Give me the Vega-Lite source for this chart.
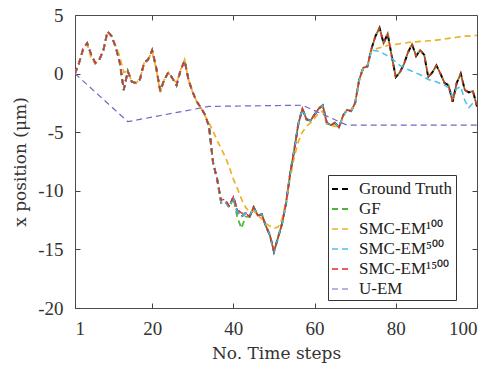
{
  "$schema": "https://vega.github.io/schema/vega-lite/v6.json",
  "width": 402,
  "height": 293,
  "autosize": {"type": "none"},
  "padding": {"left": 75, "top": 15, "right": 27, "bottom": 62},
  "background": "white",
  "config": {
    "view": {"stroke": "#4d4d4d", "strokeWidth": 1},
    "font": "Liberation Serif",
    "axis": {"labelFont": "Liberation Serif", "titleFont": "DejaVu Serif", "labelColor": "#333", "titleColor": "#333", "domain": false, "grid": false, "ticks": true, "tickColor": "#444", "tickWidth": 1, "labelFontSize": 19, "titleFontSize": 17, "titleFontWeight": "normal"}
  },
  "data": {"values": [
    {"s":1,"gt":0,"gf":0,"e1":0,"e5":0,"e15":0,"u":0},
    {"s":2,"gt":0.9,"gf":0.9,"e1":0.9,"e5":0.9,"e15":0.9,"u":null},
    {"s":3,"gt":2.1,"gf":2.1,"e1":2.1,"e5":2.1,"e15":2.1,"u":null},
    {"s":4,"gt":2.6,"gf":2.6,"e1":2.5,"e5":2.6,"e15":2.6,"u":null},
    {"s":5,"gt":1.6,"gf":1.6,"e1":1.3,"e5":1.6,"e15":1.6,"u":null},
    {"s":6,"gt":0.9,"gf":0.9,"e1":0.85,"e5":0.9,"e15":0.9,"u":null},
    {"s":7,"gt":1.2,"gf":1.2,"e1":1.2,"e5":1.2,"e15":1.2,"u":null},
    {"s":8,"gt":2.0,"gf":2.0,"e1":2.0,"e5":2.0,"e15":2.0,"u":null},
    {"s":9,"gt":3.6,"gf":3.6,"e1":3.6,"e5":3.6,"e15":3.6,"u":null},
    {"s":10,"gt":3.2,"gf":3.2,"e1":3.2,"e5":3.2,"e15":3.2,"u":null},
    {"s":11,"gt":2.3,"gf":2.3,"e1":2.4,"e5":2.3,"e15":2.3,"u":null},
    {"s":12,"gt":1.0,"gf":1.0,"e1":1.5,"e5":1.0,"e15":1.0,"u":null},
    {"s":13,"gt":-1.4,"gf":-1.4,"e1":0.1,"e5":-1.4,"e15":-1.4,"u":null},
    {"s":14,"gt":0.2,"gf":0.2,"e1":0.2,"e5":0.2,"e15":0.2,"u":-4.1},
    {"s":15,"gt":-0.7,"gf":-0.7,"e1":-0.7,"e5":-0.7,"e15":-0.7,"u":null},
    {"s":16,"gt":-0.8,"gf":-0.8,"e1":-0.8,"e5":-0.8,"e15":-0.8,"u":null},
    {"s":17,"gt":-0.5,"gf":-0.5,"e1":-0.5,"e5":-0.5,"e15":-0.5,"u":null},
    {"s":18,"gt":0.9,"gf":0.9,"e1":0.9,"e5":0.9,"e15":0.9,"u":null},
    {"s":19,"gt":1.2,"gf":1.2,"e1":1.2,"e5":1.2,"e15":1.2,"u":null},
    {"s":20,"gt":2.0,"gf":2.0,"e1":1.9,"e5":2.0,"e15":2.0,"u":null},
    {"s":21,"gt":0.5,"gf":0.5,"e1":0.4,"e5":0.5,"e15":0.5,"u":null},
    {"s":22,"gt":-1.5,"gf":-1.5,"e1":-1.6,"e5":-1.5,"e15":-1.5,"u":null},
    {"s":23,"gt":-0.5,"gf":-0.5,"e1":-0.5,"e5":-0.5,"e15":-0.5,"u":null},
    {"s":24,"gt":0.1,"gf":0.1,"e1":0.1,"e5":0.1,"e15":0.1,"u":null},
    {"s":25,"gt":-0.4,"gf":-0.4,"e1":-0.4,"e5":-0.4,"e15":-0.4,"u":null},
    {"s":26,"gt":-1.0,"gf":-1.0,"e1":-0.8,"e5":-1.0,"e15":-1.0,"u":null},
    {"s":27,"gt":0.3,"gf":0.3,"e1":0.3,"e5":0.3,"e15":0.3,"u":null},
    {"s":28,"gt":1.1,"gf":1.1,"e1":1.2,"e5":1.1,"e15":1.1,"u":null},
    {"s":29,"gt":-0.6,"gf":-0.6,"e1":-0.6,"e5":-0.6,"e15":-0.6,"u":null},
    {"s":30,"gt":-1.6,"gf":-1.6,"e1":-1.6,"e5":-1.6,"e15":-1.6,"u":null},
    {"s":31,"gt":-2.4,"gf":-2.4,"e1":-2.4,"e5":-2.4,"e15":-2.4,"u":null},
    {"s":32,"gt":-2.9,"gf":-2.9,"e1":-2.9,"e5":-2.9,"e15":-2.9,"u":null},
    {"s":33,"gt":-3.5,"gf":-3.5,"e1":-3.6,"e5":-3.5,"e15":-3.5,"u":null},
    {"s":34,"gt":-4.5,"gf":-4.5,"e1":-4.2,"e5":-4.5,"e15":-4.5,"u":-2.8},
    {"s":35,"gt":-7.6,"gf":-7.6,"e1":-4.9,"e5":-7.6,"e15":-7.6,"u":null},
    {"s":36,"gt":-9.0,"gf":-9.0,"e1":-5.7,"e5":-9.0,"e15":-9.0,"u":null},
    {"s":37,"gt":-11.0,"gf":-11.0,"e1":-6.4,"e5":-11.0,"e15":-10.8,"u":null},
    {"s":38,"gt":-10.9,"gf":-10.9,"e1":-7.1,"e5":-10.9,"e15":-10.7,"u":null},
    {"s":39,"gt":-11.4,"gf":-11.4,"e1":-8.0,"e5":-11.4,"e15":-11.3,"u":null},
    {"s":40,"gt":-10.5,"gf":-10.6,"e1":-9.0,"e5":-10.5,"e15":-10.5,"u":null},
    {"s":41,"gt":-11.8,"gf":-12.3,"e1":-9.8,"e5":-11.8,"e15":-11.6,"u":null},
    {"s":42,"gt":-12.2,"gf":-13.2,"e1":-10.7,"e5":-12.2,"e15":-11.9,"u":null},
    {"s":43,"gt":-11.9,"gf":-12.2,"e1":-11.4,"e5":-11.9,"e15":-11.9,"u":null},
    {"s":44,"gt":-12.2,"gf":-12.2,"e1":-11.8,"e5":-12.2,"e15":-12.2,"u":null},
    {"s":45,"gt":-11.4,"gf":-11.4,"e1":-11.7,"e5":-11.4,"e15":-11.4,"u":null},
    {"s":46,"gt":-12.1,"gf":-12.1,"e1":-12.1,"e5":-12.1,"e15":-12.1,"u":null},
    {"s":47,"gt":-12.0,"gf":-12.0,"e1":-12.4,"e5":-12.0,"e15":-12.0,"u":null},
    {"s":48,"gt":-13.0,"gf":-13.0,"e1":-12.8,"e5":-13.0,"e15":-13.0,"u":null},
    {"s":49,"gt":-13.8,"gf":-13.8,"e1":-13.0,"e5":-13.8,"e15":-13.8,"u":null},
    {"s":50,"gt":-15.2,"gf":-15.2,"e1":-13.2,"e5":-15.2,"e15":-15.2,"u":null},
    {"s":51,"gt":-14.0,"gf":-14.0,"e1":-13.1,"e5":-14.0,"e15":-14.0,"u":null},
    {"s":52,"gt":-12.8,"gf":-12.8,"e1":-12.4,"e5":-12.8,"e15":-12.8,"u":null},
    {"s":53,"gt":-11.0,"gf":-11.0,"e1":-10.8,"e5":-11.0,"e15":-11.0,"u":null},
    {"s":54,"gt":-8.5,"gf":-8.5,"e1":-8.9,"e5":-8.5,"e15":-8.5,"u":null},
    {"s":55,"gt":-6.5,"gf":-6.5,"e1":-7.1,"e5":-6.5,"e15":-6.5,"u":null},
    {"s":56,"gt":-4.3,"gf":-4.3,"e1":-5.8,"e5":-4.3,"e15":-4.3,"u":null},
    {"s":57,"gt":-3.0,"gf":-3.0,"e1":-5.0,"e5":-3.0,"e15":-3.0,"u":-2.7},
    {"s":58,"gt":-3.9,"gf":-3.9,"e1":-4.5,"e5":-3.9,"e15":-3.9,"u":null},
    {"s":59,"gt":-4.0,"gf":-4.0,"e1":-4.2,"e5":-4.0,"e15":-4.0,"u":null},
    {"s":60,"gt":-3.5,"gf":-3.5,"e1":-3.8,"e5":-3.5,"e15":-3.5,"u":null},
    {"s":61,"gt":-3.0,"gf":-3.0,"e1":-3.4,"e5":-3.0,"e15":-3.0,"u":null},
    {"s":62,"gt":-2.7,"gf":-2.7,"e1":-3.2,"e5":-2.7,"e15":-2.7,"u":null},
    {"s":63,"gt":-4.2,"gf":-4.2,"e1":-4.3,"e5":-4.2,"e15":-4.2,"u":null},
    {"s":64,"gt":-4.4,"gf":-4.4,"e1":-4.4,"e5":-4.4,"e15":-4.4,"u":null},
    {"s":65,"gt":-4.2,"gf":-4.2,"e1":-4.5,"e5":-4.2,"e15":-4.2,"u":null},
    {"s":66,"gt":-4.6,"gf":-4.6,"e1":-4.5,"e5":-4.6,"e15":-4.6,"u":null},
    {"s":67,"gt":-3.6,"gf":-3.6,"e1":-3.7,"e5":-3.6,"e15":-3.6,"u":null},
    {"s":68,"gt":-3.1,"gf":-3.1,"e1":-3.1,"e5":-3.1,"e15":-3.1,"u":-4.4},
    {"s":69,"gt":-3.2,"gf":-3.2,"e1":-3.2,"e5":-3.2,"e15":-3.2,"u":null},
    {"s":70,"gt":-2.5,"gf":-2.5,"e1":-2.5,"e5":-2.5,"e15":-2.5,"u":null},
    {"s":71,"gt":-0.5,"gf":-0.5,"e1":-0.6,"e5":-0.5,"e15":-0.5,"u":null},
    {"s":72,"gt":0.5,"gf":0.5,"e1":0.5,"e5":0.5,"e15":0.5,"u":null},
    {"s":73,"gt":0.6,"gf":0.6,"e1":0.7,"e5":0.6,"e15":0.6,"u":null},
    {"s":74,"gt":2.1,"gf":2.1,"e1":1.9,"e5":2.0,"e15":2.1,"u":null},
    {"s":75,"gt":3.2,"gf":3.2,"e1":2.1,"e5":1.95,"e15":3.2,"u":null},
    {"s":76,"gt":3.9,"gf":3.9,"e1":2.2,"e5":1.9,"e15":3.9,"u":null},
    {"s":77,"gt":2.6,"gf":2.6,"e1":2.3,"e5":1.7,"e15":2.6,"u":null},
    {"s":78,"gt":3.4,"gf":3.4,"e1":2.4,"e5":1.5,"e15":3.4,"u":null},
    {"s":79,"gt":1.5,"gf":1.5,"e1":2.45,"e5":1.3,"e15":1.5,"u":null},
    {"s":80,"gt":-0.3,"gf":-0.3,"e1":2.5,"e5":1.0,"e15":-0.3,"u":null},
    {"s":81,"gt":0.1,"gf":0.1,"e1":2.55,"e5":0.7,"e15":0.1,"u":null},
    {"s":82,"gt":0.8,"gf":0.8,"e1":2.6,"e5":0.5,"e15":0.8,"u":null},
    {"s":83,"gt":1.8,"gf":1.8,"e1":2.65,"e5":0.35,"e15":1.8,"u":null},
    {"s":84,"gt":2.5,"gf":2.5,"e1":2.7,"e5":0.2,"e15":2.5,"u":null},
    {"s":85,"gt":1.5,"gf":1.5,"e1":2.7,"e5":0.05,"e15":1.5,"u":null},
    {"s":86,"gt":2.0,"gf":2.0,"e1":2.75,"e5":-0.1,"e15":2.0,"u":null},
    {"s":87,"gt":1.6,"gf":1.6,"e1":2.75,"e5":-0.3,"e15":1.6,"u":null},
    {"s":88,"gt":-0.3,"gf":-0.3,"e1":2.8,"e5":-0.5,"e15":-0.3,"u":null},
    {"s":89,"gt":0.1,"gf":0.1,"e1":2.8,"e5":-0.6,"e15":0.1,"u":null},
    {"s":90,"gt":0.7,"gf":0.7,"e1":2.85,"e5":-0.7,"e15":0.7,"u":null},
    {"s":91,"gt":0.0,"gf":0.0,"e1":2.9,"e5":-0.85,"e15":0.0,"u":null},
    {"s":92,"gt":-0.8,"gf":-0.8,"e1":2.95,"e5":-1.0,"e15":-0.8,"u":null},
    {"s":93,"gt":-1.0,"gf":-1.0,"e1":3.0,"e5":-1.2,"e15":-1.0,"u":null},
    {"s":94,"gt":-2.4,"gf":-2.4,"e1":3.05,"e5":-1.9,"e15":-2.4,"u":null},
    {"s":95,"gt":-0.8,"gf":-0.8,"e1":3.1,"e5":-1.3,"e15":-0.8,"u":null},
    {"s":96,"gt":0.0,"gf":0.0,"e1":3.15,"e5":-1.1,"e15":0.0,"u":null},
    {"s":97,"gt":-1.4,"gf":-1.4,"e1":3.2,"e5":-2.3,"e15":-1.4,"u":null},
    {"s":98,"gt":-1.6,"gf":-1.6,"e1":3.2,"e5":-2.9,"e15":-1.6,"u":null},
    {"s":99,"gt":-1.5,"gf":-1.5,"e1":3.25,"e5":-2.5,"e15":-1.5,"u":null},
    {"s":100,"gt":-2.8,"gf":-2.8,"e1":3.25,"e5":-2.5,"e15":-2.8,"u":-4.4}
  ]},
  "transform": [
    {"fold": ["gt", "gf", "e1", "e5", "e15", "u"], "as": ["series", "value"]},
    {"filter": "isValid(datum.value)"}
  ],
  "resolve": {"scale": {"x": "independent", "y": "independent"}, "axis": {"x": "independent", "y": "independent"}},
  "layer": [
    {
      "mark": {"type": "line", "opacity": 0},
      "encoding": {
        "x": {"field": "s", "type": "quantitative", "scale": {"domain": [1, 100], "nice": false, "zero": false},
          "axis": {"orient": "top", "values": [20, 40, 60, 80], "ticks": true, "tickSize": 5, "offset": -5, "labels": false, "title": null}},
        "y": {"field": "value", "type": "quantitative", "scale": {"domain": [-20, 5], "nice": false, "zero": false},
          "axis": {"orient": "right", "values": [0, -5, -10, -15], "ticks": true, "tickSize": 5, "offset": -5, "labels": false, "title": null}},
        "detail": {"field": "series"}
      }
    },
    {
      "mark": {"type": "line", "strokeDash": [6, 4], "clip": true},
      "encoding": {
        "x": {"field": "s", "type": "quantitative", "scale": {"domain": [1, 100], "nice": false, "zero": false},
          "axis": {"orient": "bottom", "values": [1, 20, 40, 60, 80, 100], "ticks": true, "tickSize": 5, "offset": -5, "labelPadding": 11, "title": "No. Time steps", "titlePadding": 7}},
        "y": {"field": "value", "type": "quantitative", "scale": {"domain": [-20, 5], "nice": false, "zero": false},
          "axis": {"orient": "left", "values": [5, 0, -5, -10, -15, -20], "ticks": true, "tickSize": 5, "offset": -5, "labelPadding": 12, "title": "x position (μm)", "titlePadding": 8, "labelExpr": "replace(datum.label, '−', '-')"}},
        "color": {"field": "series", "type": "nominal",
          "scale": {"domain": ["gt", "gf", "e1", "e5", "e15", "u"], "range": ["#000000", "#4cb83a", "#edb120", "#4dbeee", "#e8262b", "#7a62c4"]},
          "legend": {"orient": "none", "legendX": 253, "legendY": 160, "title": null, "symbolType": "stroke", "symbolDash": [6, 4], "symbolSize": 400, "symbolStrokeWidth": 1.5,
            "labelFont": "Liberation Serif", "labelFontSize": 17, "labelColor": "#222", "strokeColor": "#333", "fillColor": "white", "padding": 3, "rowPadding": 1, "labelOffset": 6,
            "labelExpr": "datum.value == 'gt' ? 'Ground Truth' : datum.value == 'gf' ? 'GF' : datum.value == 'e1' ? 'SMC-EM¹⁰⁰' : datum.value == 'e5' ? 'SMC-EM⁵⁰⁰' : datum.value == 'e15' ? 'SMC-EM¹⁵⁰⁰' : 'U-EM'"}},
        "strokeWidth": {"field": "series", "type": "nominal",
          "scale": {"domain": ["gt", "gf", "e1", "e5", "e15", "u"], "range": [2, 1.2, 1.6, 1.2, 1.6, 1.1]}, "legend": null}
      }
    }
  ]
}
